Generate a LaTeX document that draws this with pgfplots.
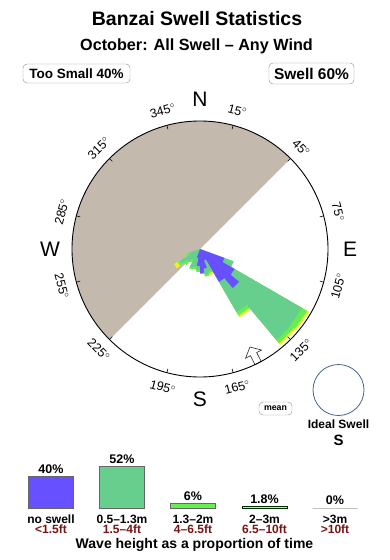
\documentclass[border=0pt]{standalone}
\usepackage{fontspec}
\setmainfont{Liberation Sans}
\usepackage{pgfplots}
\pgfplotsset{compat=1.18}
\usepgfplotslibrary{polar}
\definecolor{cblue}{RGB}{102,80,255}
\definecolor{cgreen}{RGB}{102,207,142}
\definecolor{clgreen}{RGB}{102,240,80}
\definecolor{cyellow}{RGB}{240,240,30}
\definecolor{cbeige}{RGB}{196,185,173}
\definecolor{cred}{RGB}{120,20,20}
\definecolor{cnavy}{RGB}{70,100,140}
\newcommand{\fs}[1]{\fontsize{#1}{#1}\selectfont}
\begin{document}
\begin{tikzpicture}[x=1pt,y=1pt]
\path[use as bounding box] (0,0) rectangle (390,-560);
% titles
\node[anchor=base,font=\fs{19.5}\bfseries] at (197,-25) {Banzai Swell Statistics};
\node[anchor=base,font=\fs{16.2}\bfseries] at (196.5,-50.7) {October: All Swell – Any Wind};
\node[draw=black!45,rounded corners=4pt,minimum width=107pt,minimum height=19pt,inner sep=0pt,font=\fs{13.5}\bfseries] at (76.5,-73.5) {Too Small 40\%};
\node[draw=black!45,rounded corners=4pt,minimum width=85pt,minimum height=21pt,inner sep=0pt,font=\fs{15.5}\bfseries] at (311.5,-73.5) {Swell 60\%};

% rose
\begin{polaraxis}[
  at={(200pt,-249pt)}, anchor=origin,
  scale only axis, width=256pt, height=256pt,
  xmin=0, xmax=360, ymin=0, ymax=128,
  xtick={15,45,...,345}, xticklabels={}, ytick=\empty,
  tick align=outside, major tick length=4pt,
  xmajorgrids=false, ymajorgrids=false,
  separate axis lines,
  x axis line style={line width=0.9pt, black},
  y axis line style={draw=none},
  tick style={black, line width=0.6pt},
  axis on top, clip=false, no markers,
  x filter/.expression={mod(450-x,360)},
]
% blocked sector
\addplot[draw=none, fill=cbeige] coordinates {
(225,0)(225,128)(230,128)(235,128)(240,128)(245,128)(250,128)(255,128)(260,128)(265,128)(270,128)
(275,128)(280,128)(285,128)(290,128)(295,128)(300,128)(305,128)(310,128)(315,128)(320,128)
(325,128)(330,128)(335,128)(340,128)(345,128)(350,128)(355,128)(360,128)(365,128)(370,128)
(375,128)(380,128)(385,128)(390,128)(395,128)(400,128)(405,128)(405,0)};
% 2-3m (cumulative)
\addplot[draw=none, fill=cyellow] coordinates {
(120,0)(120,126)(130,126)(130,0)
(130,0)(130,125)(140,125)(140,0)
(140,0)(140,79)(150,79)(150,0)
(150,0)(150,28)(160,28)(160,0)
(230,0)(230,30)(240,30)(240,0)};
% 1.3-2m (cumulative)
\addplot[draw=none, fill=clgreen] coordinates {
(120,0)(120,124)(130,124)(130,0)
(130,0)(130,123)(140,123)(140,0)
(140,0)(140,77)(150,77)(150,0)
(150,0)(150,26)(160,26)(160,0)
(160,0)(160,28)(170,28)(170,0)
(180,0)(180,23)(190,23)(190,0)
(190,0)(190,21)(200,21)(200,0)
(200,0)(200,22)(210,22)(210,0)
(210,0)(210,16)(220,16)(220,0)
(220,0)(220,21)(230,21)(230,0)
(230,0)(230,26)(240,26)(240,0)
(240,0)(240,15)(250,15)(250,0)};
% 0.5-1.3m (cumulative)
\addplot[draw=none, fill=cgreen] coordinates {
(110,0)(110,36)(120,36)(120,0)
(120,0)(120,118)(130,118)(130,0)
(130,0)(130,119)(140,119)(140,0)
(140,0)(140,73)(150,73)(150,0)
(150,0)(150,24)(160,24)(160,0)
(160,0)(160,26)(170,26)(170,0)
(170,0)(170,25)(180,25)(180,0)
(180,0)(180,21)(190,21)(190,0)
(190,0)(190,19)(200,19)(200,0)
(200,0)(200,20)(210,20)(210,0)
(210,0)(210,13)(220,13)(220,0)
(220,0)(220,17)(230,17)(230,0)
(230,0)(230,23)(240,23)(240,0)
(240,0)(240,12)(250,12)(250,0)};
% no swell
\addplot[draw=none, fill=cblue] coordinates {
(110,0)(110,26)(120,26)(120,0)
(120,0)(120,40)(130,40)(130,0)
(130,0)(130,51)(140,51)(140,0)
(140,0)(140,38)(150,38)(150,0)
(150,0)(150,12)(160,12)(160,0)
(160,0)(160,20)(170,20)(170,0)
(170,0)(170,24)(180,24)(180,0)
(180,0)(180,17)(190,17)(190,0)
(190,0)(190,9)(200,9)(200,0)};
% mean direction arrow
\addplot[draw=black!85, fill=white, line width=0.6pt, line join=miter] coordinates {
(153,110)(157.36,118.34)(154.70,118.05)(154.57,128.05)(151.43,128.05)(151.30,118.05)(148.64,118.34)(153,110)};
\end{polaraxis}

% compass letters
\node[font=\fs{21}] at (200,-99) {N};
\node[font=\fs{21}] at (350,-249) {E};
\node[font=\fs{21}] at (200,-399) {S};
\node[font=\fs{21}] at (50,-249) {W};
% degree labels
\begin{scope}[every node/.style={font=\fs{12.5},inner sep=0pt}]
\node[rotate=-15] at (237.3,-110.8) {15$^\circ$};
\node[rotate=-45] at (301.1,-147.9) {45$^\circ$};
\node[rotate=-75] at (338.2,-211.9) {75$^\circ$};
\node[rotate=75] at (338.2,-286.1) {105$^\circ$};
\node[rotate=45] at (301.1,-350.1) {135$^\circ$};
\node[rotate=15] at (237.3,-387.2) {165$^\circ$};
\node[rotate=-15] at (162.7,-387.2) {195$^\circ$};
\node[rotate=-45] at (98.9,-350.1) {225$^\circ$};
\node[rotate=-75] at (61.8,-286.1) {255$^\circ$};
\node[rotate=75] at (61.8,-211.9) {285$^\circ$};
\node[rotate=45] at (98.9,-147.9) {315$^\circ$};
\node[rotate=15] at (162.7,-110.8) {345$^\circ$};
\end{scope}

\node[draw=black!45,rounded corners=4pt,minimum width=33pt,minimum height=13pt,inner sep=0pt,font=\fs{8.8}\bfseries] at (275.5,-408.5) {mean};
\draw[cnavy, line width=0.8pt] (338.5,-390) circle[radius=25.5];
\node[font=\fs{12}\bfseries] at (338.5,-424) {Ideal Swell};
\node[font=\fs{15}\bfseries] at (338.5,-440) {S};

% legend bars
\begin{axis}[
  at={(0pt,-508pt)}, anchor=origin, x=1pt, y=0.8pt,
  xmin=0, xmax=390, ymin=0, ymax=60, hide axis, clip=false,
  ybar, bar width=45pt,
  /pgf/number format/assume math mode=true,
  nodes near coords={\pgfmathprintnumber{\pgfplotspointmeta}\%},
  every node near coord/.append style={font=\fs{12.5}\bfseries, text=black, inner sep=2.5pt},
]
\addplot[bar shift=0pt, fill=cblue, draw=black!60, line width=0.6pt] coordinates {(51,40)};
\addplot[bar shift=0pt, fill=cgreen, draw=black!60, line width=0.6pt] coordinates {(122,52)};
\addplot[bar shift=0pt, fill=clgreen, draw=black!60, line width=0.6pt] coordinates {(193,6)};
\addplot[bar shift=0pt, fill=cyellow, draw=black!70!green!60!black, line width=0.6pt] coordinates {(264.5,1.8)};
\addplot[bar shift=0pt, fill=orange, draw=black!35, line width=0.9pt] coordinates {(335,0)};
\end{axis}

\begin{scope}[every node/.style={font=\fs{12}\bfseries}]
\node at (51,-519) {no swell};
\node[text=cred] at (51,-529.5) {<1.5ft};
\node at (122,-519) {0.5–1.3m};
\node[text=cred] at (122,-529.5) {1.5–4ft};
\node at (193,-519) {1.3–2m};
\node[text=cred] at (193,-529.5) {4–6.5ft};
\node at (264.5,-519) {2–3m};
\node[text=cred] at (264.5,-529.5) {6.5–10ft};
\node at (335,-519) {>3m};
\node[text=cred] at (335,-529.5) {>10ft};
\end{scope}
\node[font=\fs{14}\bfseries] at (194.5,-545) {Wave height as a proportion of time};
\end{tikzpicture}
\end{document}
